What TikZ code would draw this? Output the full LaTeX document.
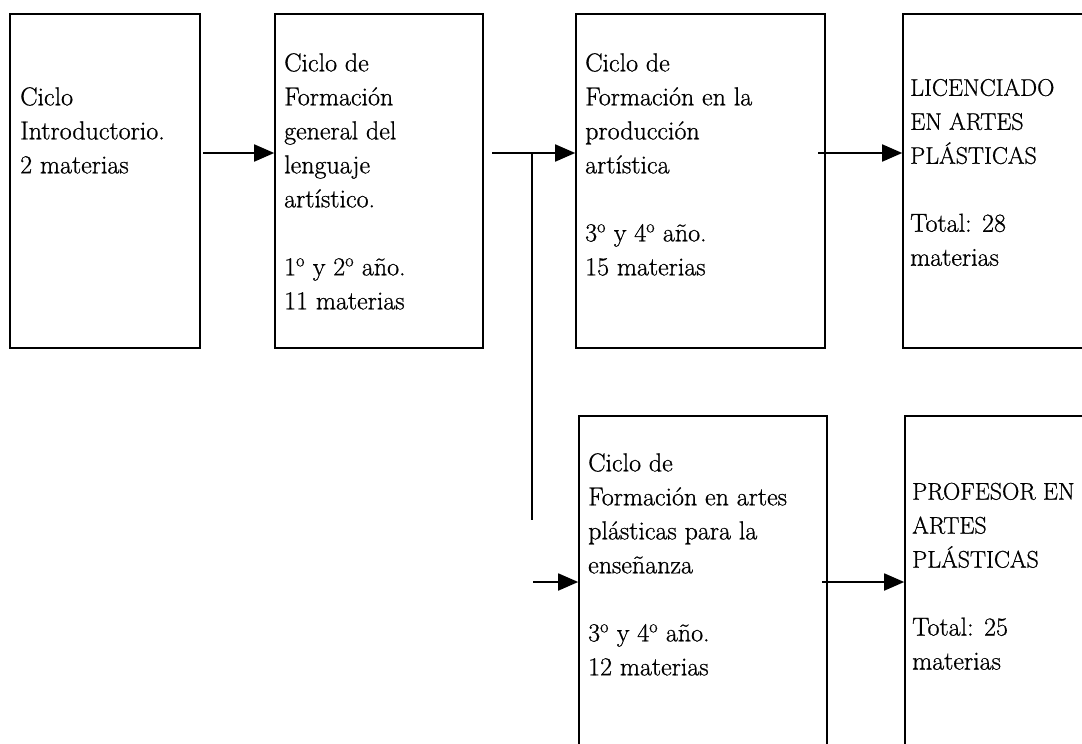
\documentclass[tikz,border=0pt]{standalone}
\usepackage{fontspec}
\setmainfont{Latin Modern Roman}[FakeBold=0.8]
\usetikzlibrary{arrows.meta}
\newcommand\capsz{\fontsize{24}{34}\selectfont}
\newcommand\ord{\textsuperscript{o}}
\begin{document}
\begin{tikzpicture}[x=1pt,y=-1pt,
  box/.style={draw, line width=1.6pt, inner sep=0pt},
  txt/.style={anchor=north west, align=left, inner sep=0pt, font=\fontsize{26}{34}\selectfont},
  arr/.style={line width=1.8pt, -{Triangle[length=20pt,width=17pt]}},
  branch/.style={line width=1.8pt}]
\clip (0,0) rectangle (1082,744);
% boxes
\node[box, minimum width=190pt, minimum height=334pt] (b1) at (105,181) {};
\node[box, minimum width=208pt, minimum height=334pt] (b2) at (379,181) {};
\node[box, minimum width=249pt, minimum height=334pt] (b3) at (700.5,181) {};
\node[box, minimum width=300pt, minimum height=334pt] (b4) at (1053,181) {};
\node[box, minimum width=248pt, minimum height=400pt] (b5) at (703,616) {};
\node[box, minimum width=300pt, minimum height=400pt] (b6) at (1055,616) {};
% texts
\node[txt] (t1) at (20,87) {Ciclo\\Introductorio.\\2 materias};
\node[txt] (t2) at (284,53) {Ciclo de\\Formación\\general del\\lenguaje\\artístico.\\[34pt]1\ord{} y 2\ord{} año.\\11 materias};
\node[txt] (t3) at (585,53) {Ciclo de\\Formación en la\\producción\\artística\\[34pt]3\ord{} y 4\ord{} año.\\15 materias};
\node[txt] (t4) at (910,78.6) {{\capsz LICENCIADO}\\{\capsz EN ARTES}\\{\capsz PLÁSTICAS}\\[34pt]Total: 28\\materias};
\node[txt] (t5) at (588,453) {Ciclo de\\Formación en artes\\plásticas para la\\enseñanza\\[34pt]3\ord{} y 4\ord{} año.\\12 materias};
\node[txt] (t6) at (912,482.6) {{\capsz PROFESOR EN}\\{\capsz ARTES}\\{\capsz PLÁSTICAS}\\[34pt]Total: 25\\materias};
% connectors
\coordinate (s1) at (203,153);
\coordinate (s2) at (492,153);
\coordinate (s3) at (818,153);
\coordinate (j) at (532,153);
\coordinate (je) at (532,520);
\coordinate (s5) at (533,582);
\coordinate (s6) at (822,582);
\draw[arr] (s1) -- (s1 -| b2.west);
\draw[arr] (s2) -- (s2 -| b3.west);
\draw[arr] (s3) -- (s3 -| b4.west);
\draw[branch] (j) -- (je);
\draw[arr] (s5) -- (s5 -| b5.west);
\draw[arr] (s6) -- (s6 -| b6.west);
\end{tikzpicture}
\end{document}
